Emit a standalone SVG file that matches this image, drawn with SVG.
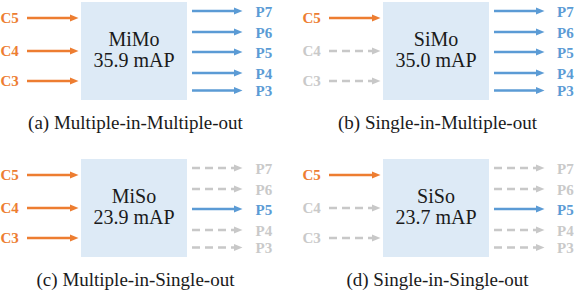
<svg xmlns="http://www.w3.org/2000/svg" width="574" height="292" viewBox="0 0 574 292">
<defs>
<style>
.box{fill:#DDEAF6}
.t{fill:#1a1a1a}
.bt{font-size:20px;text-anchor:middle}
.cap{font-size:19px;text-anchor:middle}
.lb{font-weight:bold;font-size:15px}
.lo{fill:#ED7D31}
.lbl{fill:#5B9BD5}
.lg{fill:#C9C9C9}
.ao{stroke:#ED7D31;stroke-width:2.5;fill:none;marker-end:url(#mo)}
.ab{stroke:#5B9BD5;stroke-width:2.5;fill:none;marker-end:url(#mb)}
.ag{stroke:#C8C8C8;stroke-width:2.5;fill:none;stroke-dasharray:8 5;marker-end:url(#mg)}
</style>
<marker id="mo" markerUnits="userSpaceOnUse" markerWidth="10" markerHeight="10" refX="1" refY="4" orient="auto" viewBox="0 0 10 8"><path d="M0,0.5 L8.5,4 L0,7.5 Z" fill="#ED7D31"/></marker>
<marker id="mb" markerUnits="userSpaceOnUse" markerWidth="10" markerHeight="10" refX="1" refY="4" orient="auto" viewBox="0 0 10 8"><path d="M0,0.5 L8.5,4 L0,7.5 Z" fill="#5B9BD5"/></marker>
<marker id="mg" markerUnits="userSpaceOnUse" markerWidth="10" markerHeight="10" refX="1" refY="4" orient="auto" viewBox="0 0 10 8"><path d="M0,0.5 L8.5,4 L0,7.5 Z" fill="#C8C8C8"/></marker>
</defs>

<g font-family="'Liberation Serif', 'Times New Roman', serif">
<!-- Panel (a) -->
<g id="panel-a">
<g id="node-mimo">
<rect class="box" x="81" y="2" width="106" height="98"/>
<text class="t bt" x="134" y="45.5">MiMo</text>
<text class="t bt" x="134" y="67">35.9 mAP</text>
</g>
<g id="labels-a">
<text class="lb lo" x="0.5" y="23">C5</text>
<text class="lb lo" x="0.5" y="56">C4</text>
<text class="lb lo" x="0.5" y="86">C3</text>
<text class="lb lbl" x="255.5" y="16.5">P7</text>
<text class="lb lbl" x="255.5" y="37.5">P6</text>
<text class="lb lbl" x="255.5" y="57.5">P5</text>
<text class="lb lbl" x="255.5" y="78.5">P4</text>
<text class="lb lbl" x="255.5" y="96">P3</text>
</g>
<g id="connectors-a">
<line class="ao" x1="27" y1="18" x2="71" y2="18"/>
<line class="ao" x1="27" y1="51" x2="71" y2="51"/>
<line class="ao" x1="27" y1="81" x2="71" y2="81"/>
<line class="ab" x1="192" y1="11" x2="235" y2="11"/>
<line class="ab" x1="192" y1="32" x2="235" y2="32"/>
<line class="ab" x1="192" y1="52" x2="235" y2="52"/>
<line class="ab" x1="192" y1="73" x2="235" y2="73"/>
<line class="ab" x1="192" y1="90.5" x2="235" y2="90.5"/>
</g>
<text class="t cap" x="135.5" y="128.5">(a) Multiple-in-Multiple-out</text>
</g>

<!-- Panel (b) -->
<g id="panel-b">
<g id="node-simo">
<rect class="box" x="383" y="2" width="106" height="98"/>
<text class="t bt" x="436" y="45.5">SiMo</text>
<text class="t bt" x="436" y="67">35.0 mAP</text>
</g>
<g id="labels-b">
<text class="lb lo" x="302.5" y="23">C5</text>
<text class="lb lg" x="302.5" y="56">C4</text>
<text class="lb lg" x="302.5" y="86">C3</text>
<text class="lb lbl" x="557" y="16.5">P7</text>
<text class="lb lbl" x="557" y="37.5">P6</text>
<text class="lb lbl" x="557" y="57.5">P5</text>
<text class="lb lbl" x="557" y="78.5">P4</text>
<text class="lb lbl" x="557" y="96">P3</text>
</g>
<g id="connectors-b">
<line class="ao" x1="329" y1="18" x2="373" y2="18"/>
<line class="ag" x1="329" y1="51" x2="373" y2="51"/>
<line class="ag" x1="329" y1="81" x2="373" y2="81"/>
<line class="ab" x1="494" y1="11" x2="537" y2="11"/>
<line class="ab" x1="494" y1="32" x2="537" y2="32"/>
<line class="ab" x1="494" y1="52" x2="537" y2="52"/>
<line class="ab" x1="494" y1="73" x2="537" y2="73"/>
<line class="ab" x1="494" y1="90.5" x2="537" y2="90.5"/>
</g>
<text class="t cap" x="437.5" y="128.5">(b) Single-in-Multiple-out</text>
</g>

<!-- Panel (c) -->
<g id="panel-c">
<g id="node-miso">
<rect class="box" x="81" y="159" width="106" height="98"/>
<text class="t bt" x="134" y="202.5">MiSo</text>
<text class="t bt" x="134" y="224">23.9 mAP</text>
</g>
<g id="labels-c">
<text class="lb lo" x="0.5" y="180">C5</text>
<text class="lb lo" x="0.5" y="213">C4</text>
<text class="lb lo" x="0.5" y="243">C3</text>
<text class="lb lg" x="255.5" y="173.5">P7</text>
<text class="lb lg" x="255.5" y="194.5">P6</text>
<text class="lb lbl" x="255.5" y="214.5">P5</text>
<text class="lb lg" x="255.5" y="235.5">P4</text>
<text class="lb lg" x="255.5" y="253">P3</text>
</g>
<g id="connectors-c">
<line class="ao" x1="27" y1="175" x2="71" y2="175"/>
<line class="ao" x1="27" y1="208" x2="71" y2="208"/>
<line class="ao" x1="27" y1="238" x2="71" y2="238"/>
<line class="ag" x1="192" y1="168" x2="235" y2="168"/>
<line class="ag" x1="192" y1="189" x2="235" y2="189"/>
<line class="ab" x1="192" y1="209" x2="235" y2="209"/>
<line class="ag" x1="192" y1="230" x2="235" y2="230"/>
<line class="ag" x1="192" y1="247.5" x2="235" y2="247.5"/>
</g>
<text class="t cap" x="135.5" y="285.5">(c) Multiple-in-Single-out</text>
</g>

<!-- Panel (d) -->
<g id="panel-d">
<g id="node-siso">
<rect class="box" x="383" y="159" width="106" height="98"/>
<text class="t bt" x="436" y="202.5">SiSo</text>
<text class="t bt" x="436" y="224">23.7 mAP</text>
</g>
<g id="labels-d">
<text class="lb lo" x="302.5" y="180">C5</text>
<text class="lb lg" x="302.5" y="213">C4</text>
<text class="lb lg" x="302.5" y="243">C3</text>
<text class="lb lg" x="557" y="173.5">P7</text>
<text class="lb lg" x="557" y="194.5">P6</text>
<text class="lb lbl" x="557" y="214.5">P5</text>
<text class="lb lg" x="557" y="235.5">P4</text>
<text class="lb lg" x="557" y="253">P3</text>
</g>
<g id="connectors-d">
<line class="ao" x1="329" y1="175" x2="373" y2="175"/>
<line class="ag" x1="329" y1="208" x2="373" y2="208"/>
<line class="ag" x1="329" y1="238" x2="373" y2="238"/>
<line class="ag" x1="494" y1="168" x2="537" y2="168"/>
<line class="ag" x1="494" y1="189" x2="537" y2="189"/>
<line class="ab" x1="494" y1="209" x2="537" y2="209"/>
<line class="ag" x1="494" y1="230" x2="537" y2="230"/>
<line class="ag" x1="494" y1="247.5" x2="537" y2="247.5"/>
</g>
<text class="t cap" x="437.5" y="285.5">(d) Single-in-Single-out</text>
</g>
</g>
</svg>
